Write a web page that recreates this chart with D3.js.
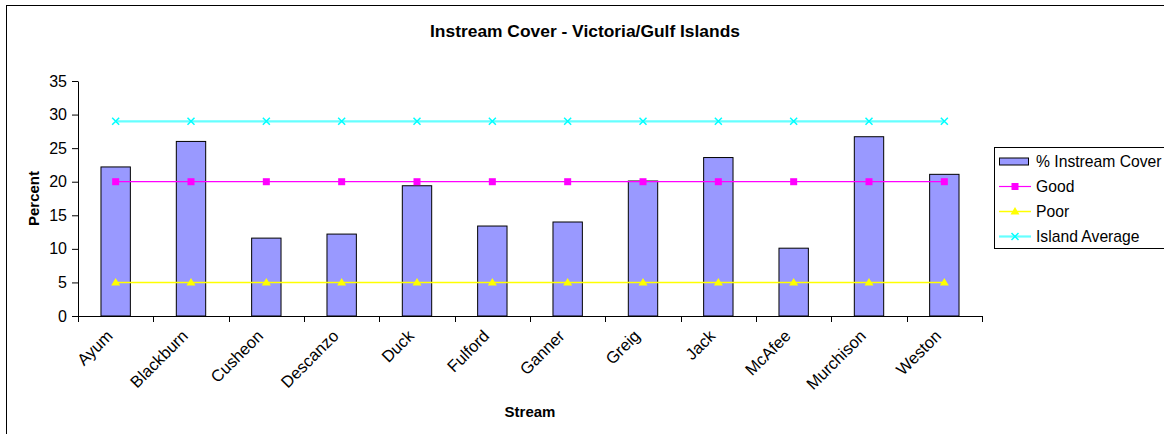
<!DOCTYPE html>
<html>
<head>
<meta charset="utf-8">
<script src="https://cdn.jsdelivr.net/npm/d3@7/dist/d3.min.js"></script>
<style>
  html, body { margin: 0; padding: 0; background: #fff; }
  svg { display: block; font-family: "Liberation Sans", Arial, sans-serif; }
</style>
</head>
<body>
<svg id="chart" width="1164" height="434"></svg>
<script>
// Stream names along the x axis
const streams = ["Ayum", "Blackburn", "Cusheon", "Descanzo", "Duck", "Fulford",
                 "Ganner", "Greig", "Jack", "McAfee", "Murchison", "Weston"];
// % instream cover per stream
const instreamCover = [22.2, 26.0, 11.6, 12.2, 19.4, 13.4, 14.0, 20.1, 23.6, 10.1, 26.7, 21.1];
// Reference levels
const good = [20, 20, 20, 20, 20, 20, 20, 20, 20, 20, 20, 20];
const poor = [5, 5, 5, 5, 5, 5, 5, 5, 5, 5, 5, 5];
const islandAverage = [29, 29, 29, 29, 29, 29, 29, 29, 29, 29, 29, 29];
const yTicks = [0, 5, 10, 15, 20, 25, 30, 35];

const svg = d3.select("#chart");

// Chart frame (right and bottom edges fall outside the page)
svg.append("rect")
  .attr("x", 6.5).attr("y", 5.5)
  .attr("width", 1200).attr("height", 500)
  .attr("fill", "#fff").attr("stroke", "#000").attr("stroke-width", 1);

const plot = { left: 78, right: 982, top: 81, bottom: 316 };

const x = d3.scaleBand().domain(streams).range([plot.left, plot.right]).padding(0);
const y = d3.scaleLinear().domain([0, 35]).range([plot.bottom, plot.top]);
const cx = d => x(d) + x.bandwidth() / 2;
const barW = x.bandwidth() * 0.39;

// Title
svg.append("text")
  .attr("x", 585).attr("y", 37)
  .attr("text-anchor", "middle")
  .attr("font-size", 17.4).attr("font-weight", "bold")
  .text("Instream Cover - Victoria/Gulf Islands");

// Bars
svg.append("g").selectAll("rect")
  .data(streams)
  .join("rect")
  .attr("x", d => cx(d) - barW / 2)
  .attr("y", (d, i) => y(instreamCover[i]))
  .attr("width", barW)
  .attr("height", (d, i) => y(0) - y(instreamCover[i]))
  .attr("fill", "#9999FF")
  .attr("stroke", "#000")
  .attr("stroke-width", 1);

// Y axis
const yAxis = svg.append("g")
  .attr("transform", `translate(${plot.left},0)`)
  .call(d3.axisLeft(y).tickValues(yTicks).tickSize(6).tickSizeOuter(0).tickPadding(5));
yAxis.select(".domain").attr("stroke", "#000");
yAxis.selectAll("text").attr("font-size", 16).attr("fill", "#000")
  .attr("font-family", "Liberation Sans, Arial, sans-serif");

// X axis: ticks sit on the category boundaries
const xAxisG = svg.append("g").attr("transform", `translate(0,${plot.bottom})`);
xAxisG.append("line")
  .attr("x1", plot.left).attr("x2", plot.right)
  .attr("y1", 0.5).attr("y2", 0.5)
  .attr("stroke", "#000");
const boundaries = streams.map(d => x(d)).concat([plot.right]);
xAxisG.selectAll("line.tick")
  .data(boundaries)
  .join("line")
  .attr("class", "tick")
  .attr("x1", d => Math.round(d) + 0.5).attr("x2", d => Math.round(d) + 0.5)
  .attr("y1", 0).attr("y2", 6)
  .attr("stroke", "#000");
xAxisG.selectAll("text")
  .data(streams)
  .join("text")
  .attr("transform", d => `translate(${cx(d) - 2},${21}) rotate(-45)`)
  .attr("text-anchor", "end")
  .attr("font-size", 16.5)
  .text(d => d);

// Axis titles
svg.append("text")
  .attr("x", 530).attr("y", 417)
  .attr("text-anchor", "middle")
  .attr("font-size", 15).attr("font-weight", "bold")
  .text("Stream");
svg.append("text")
  .attr("transform", `translate(39,${(plot.top + plot.bottom) / 2}) rotate(-90)`)
  .attr("text-anchor", "middle")
  .attr("font-size", 15).attr("font-weight", "bold")
  .text("Percent");

// Line series
const lineSeries = [
  { name: "Good", values: good, stroke: "#FF00FF", width: 1.2, marker: "square", mColor: "#FF00FF" },
  { name: "Poor", values: poor, stroke: "#FFFF00", width: 1.5, marker: "triangle", mColor: "#FFFF00" },
  { name: "Island Average", values: islandAverage, stroke: "#66FFFF", width: 2.2, marker: "cross", mColor: "#00FFFF" }
];

const line = d3.line().x(d => cx(d.k)).y(d => y(d.v));

function drawMarker(g, type, color, px, py) {
  if (type === "square") {
    g.append("rect").attr("x", px - 3.5).attr("y", py - 3.5).attr("width", 7).attr("height", 7)
      .attr("fill", color);
  } else if (type === "triangle") {
    g.append("path").attr("d", `M${px},${py - 4.5}L${px + 4.5},${py + 3}L${px - 4.5},${py + 3}Z`)
      .attr("fill", color);
  } else {
    g.append("path").attr("d", `M${px - 3.5},${py - 3.5}L${px + 3.5},${py + 3.5}M${px + 3.5},${py - 3.5}L${px - 3.5},${py + 3.5}`)
      .attr("stroke", color).attr("stroke-width", 1.5).attr("fill", "none");
  }
}

// Draw bottom-up so Island Average sits on top
lineSeries.slice().reverse().forEach(s => {
  const g = svg.append("g");
  const pts = streams.map((k, i) => ({ k, v: s.values[i] }));
  g.append("path").datum(pts).attr("d", line)
    .attr("fill", "none").attr("stroke", s.stroke).attr("stroke-width", s.width);
  pts.forEach(p => drawMarker(g, s.marker, s.mColor, cx(p.k), y(p.v)));
});

// Legend
const legend = svg.append("g");
legend.append("rect")
  .attr("x", 994.5).attr("y", 147.5).attr("width", 200).attr("height", 101)
  .attr("fill", "#fff").attr("stroke", "#000");
const legendItems = [
  { name: "% Instream Cover", type: "bar" },
  ...lineSeries.map(s => ({ name: s.name, type: "line", s }))
];
legendItems.forEach((it, i) => {
  const ly = 161.5 + i * 25;
  if (it.type === "bar") {
    legend.append("rect").attr("x", 999.5).attr("y", ly - 3.5).attr("width", 29).attr("height", 7)
      .attr("fill", "#9999FF").attr("stroke", "#000").attr("stroke-width", 1);
  } else {
    legend.append("line").attr("x1", 999).attr("x2", 1031).attr("y1", ly).attr("y2", ly)
      .attr("stroke", it.s.stroke).attr("stroke-width", it.s.width);
    drawMarker(legend, it.s.marker, it.s.mColor, 1015, ly);
  }
  legend.append("text").attr("x", 1036).attr("y", ly + 5.5)
    .attr("font-size", 15.7).text(it.name);
});
</script>
</body>
</html>
